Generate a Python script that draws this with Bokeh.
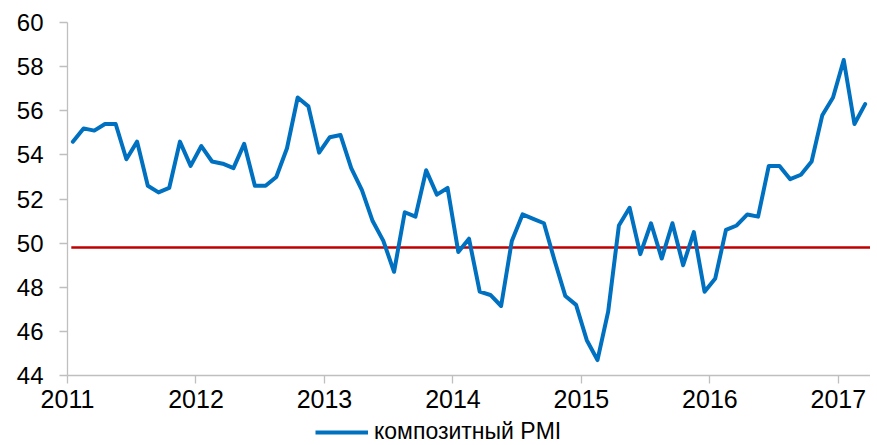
import pandas as pd
from bokeh.plotting import figure
from bokeh.layouts import column
from bokeh.models import (Range1d, FixedTicker, PrintfTickFormatter, Legend,
                          LegendItem, ColumnDataSource)
from bokeh.embed import file_html
from bokeh.resources import INLINE

# ---- data ----
start_month = "2011-01"
pmi_values = [
    54.6, 55.2, 55.1, 55.4, 55.4, 53.8, 54.6, 52.6, 52.3, 52.5, 54.6, 53.5,   # 2011
    54.4, 53.7, 53.6, 53.4, 54.5, 52.6, 52.6, 53.0, 54.3, 56.6, 56.2, 54.1,   # 2012
    54.8, 54.9, 53.4, 52.4, 51.0, 50.1, 48.7, 51.4, 51.2, 53.3, 52.2, 52.5,   # 2013
    49.6, 50.2, 47.8, 47.65, 47.15, 50.1, 51.3, 51.1, 50.9, 49.2, 47.6, 47.2, # 2014
    45.6, 44.7, 46.9, 50.8, 51.6, 49.5, 50.9, 49.3, 50.9, 49.0, 50.5, 47.8,   # 2015
    48.4, 50.6, 50.8, 51.3, 51.2, 53.5, 53.5, 52.9, 53.1, 53.7, 55.8, 56.6,   # 2016
    58.3, 55.4, 56.3,                                                          # 2017
]
threshold = [49.8]
year_ticks = [2011, 2012, 2013, 2014, 2015, 2016, 2017]
y_ticks = [44, 46, 48, 50, 52, 54, 56, 58, 60]
series_label = "композитный PMI"

periods = pd.period_range(start_month, periods=len(pmi_values), freq="M")
x_vals = [p.year + (p.month - 0.5) / 12.0 for p in periods]

x_start = 2011.0
x_end = 2017.25
line_color = "#0070C0"

src = ColumnDataSource(dict(x=x_vals, y=pmi_values))

p = figure(width=870, height=418, output_backend="svg", toolbar_location=None,
           x_range=Range1d(x_start, x_end), y_range=Range1d(44, 60),
           min_border_left=67, min_border_top=22, min_border_right=0,
           min_border_bottom=43)
p.outline_line_color = None
p.xgrid.visible = False
p.ygrid.visible = False
p.background_fill_color = "white"
p.border_fill_color = "white"

axis_col = "#bfbfbf"
for ax in (p.xaxis[0], p.yaxis[0]):
    ax.axis_line_color = axis_col
    ax.axis_line_width = 1.3
    ax.major_tick_line_color = axis_col
    ax.major_tick_line_width = 1.3
    ax.major_tick_out = 8
    ax.major_tick_in = 0
    ax.minor_tick_line_color = None
    ax.major_label_text_font = "Liberation Sans"
    ax.major_label_text_color = "black"

p.xaxis.ticker = FixedTicker(ticks=year_ticks)
p.xaxis.formatter = PrintfTickFormatter(format="%d")
p.xaxis.major_label_text_font_size = "25px"
p.xaxis.major_label_standoff = 6

p.yaxis.ticker = FixedTicker(ticks=y_ticks)
p.yaxis.major_label_text_font_size = "24px"
p.yaxis.major_label_standoff = 16

# threshold line
p.line(x=[x_vals[0] - 0.012, x_end], y=threshold * 2, line_color="#C00000",
       line_width=2.5, line_cap="butt")

p.line("x", "y", source=src, line_color=line_color, line_width=4,
       line_join="round", line_cap="round")

# ---- legend strip below the chart ----
lg = figure(width=870, height=27, output_backend="svg", toolbar_location=None,
            x_range=Range1d(0, 1), y_range=Range1d(0, 1),
            min_border_left=0, min_border_right=0, min_border_top=0,
            min_border_bottom=0)
lg.axis.visible = False
lg.grid.visible = False
lg.outline_line_color = None
lg.border_fill_color = "white"
# same series, outside this strip's visible range: only its legend swatch shows
lr = lg.line("x", "y", source=src, line_color=line_color, line_width=4)

legend = Legend(items=[LegendItem(label=series_label, renderers=[lr])],
                location=(248, 0), orientation="horizontal",
                glyph_width=53, glyph_height=20, label_height=20,
                label_standoff=6, padding=0, margin=0, spacing=0,
                border_line_color=None, background_fill_alpha=0,
                label_text_font="Liberation Sans", label_text_font_size="23px",
                label_text_color="black")
lg.add_layout(legend)

layout = column(p, lg, spacing=0)
open("out.html", "w").write(file_html(layout, INLINE))
